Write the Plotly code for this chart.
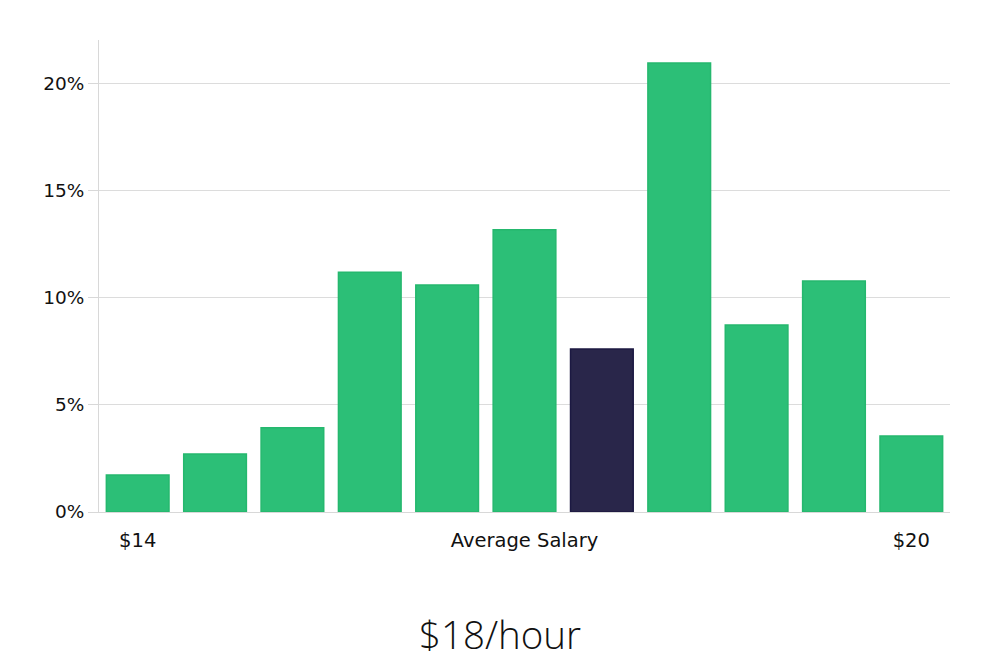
import plotly.graph_objects as go

categories = list(range(11))
values = [1.73, 2.71, 3.93, 11.2, 10.6, 13.18, 7.62, 20.98, 8.74, 10.79, 3.55]
highlight_index = 6
tick_positions = [0, 5, 10]
tick_labels = ["$14", "Average Salary", "$20"]
y_ticks = [0, 5, 10, 15, 20]
y_tick_labels = ["0%", "5%", "10%", "15%", "20%"]
title_text = "$18/hour"

green = "#2cbf77"
green_line = "#25b86e"
dark = "#29264a"
dark_line = "#1c1942"

colors = [dark if i == highlight_index else green for i in categories]
line_colors = [dark_line if i == highlight_index else green_line for i in categories]

fig = go.Figure(go.Bar(
    x=categories, y=values,
    marker=dict(color=colors, line=dict(color=line_colors, width=1.5)),
    width=0.81,
))

fig.update_layout(
    width=1000, height=660,
    margin=dict(l=99, r=50, t=40, b=148),
    paper_bgcolor="white", plot_bgcolor="white",
    font=dict(family="DejaVu Sans", size=18, color="#111111"),
    showlegend=False,
    bargap=0.19,
)
fig.update_xaxes(
    range=[-0.5, 10.5],
    tickmode="array", tickvals=tick_positions, ticktext=tick_labels,
    showgrid=False, zeroline=False,
    showline=True, linecolor="#d8d8d8", linewidth=1,
    ticks="", ticklabelstandoff=11,
    tickfont=dict(family="DejaVu Sans", size=19.5, color="#111111"),
)
fig.update_yaxes(
    range=[0, 22.05],
    tickmode="array", tickvals=y_ticks, ticktext=y_tick_labels,
    showgrid=True, gridcolor="#dcdcdc", gridwidth=1,
    zeroline=False,
    showline=True, linecolor="#d8d8d8", linewidth=1,
    ticks="outside", ticklen=10, tickcolor="#d8d8d8",
    tickfont=dict(family="DejaVu Sans", size=18.5, color="#111111"),
)
fig.add_annotation(
    text=title_text, xref="paper", yref="paper",
    x=0.5 - (99 - 50) / 2 / 851, y=0, yshift=-122, xanchor="center", yanchor="middle",
    showarrow=False,
    font=dict(family="Open Sans", size=38.5, color="#111111", weight=300),
)

fig.write_html(
    "out.html",
    config={"displayModeBar": False},
    post_script="document.body.style.margin='0';document.body.style.overflow='hidden';",
)
